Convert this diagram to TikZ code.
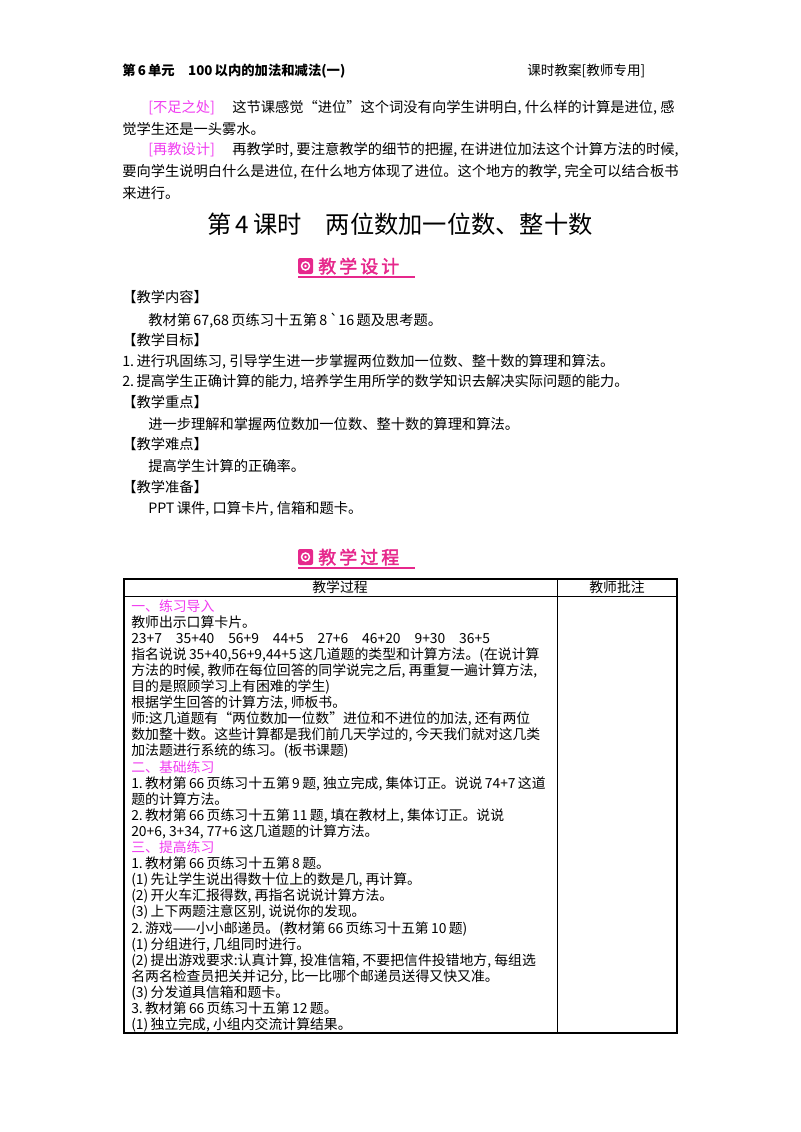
\documentclass[tikz,border=0pt]{standalone}
\usepackage{fontspec}
\setmainfont{Noto Sans CJK SC}
\newfontfamily\cjkbold{Noto Sans CJK SC}[FakeBold=2]
\usetikzlibrary{positioning}
\definecolor{pinkhead}{RGB}{230,40,140}
\definecolor{magtext}{RGB}{240,60,240}
\tikzset{
  body/.style={anchor=base west,inner sep=0pt,font=\fontsize{10.7}{12}\selectfont},
  cell/.style={anchor=base west,inner sep=0pt,font=\fontsize{10.4}{11}\selectfont},
  badge/.style={anchor=base west,inner sep=0pt,text=pinkhead,font=\cjkbold\fontsize{13.5}{15}\selectfont}
}
\newcommand{\badgeicon}[2]{%
  \fill[pinkhead,rounded corners=1.5pt] (#1,#2) rectangle ++(15,16);
  \draw[white,line width=1.1pt] (#1+7.5,#2+8) circle (4);
  \fill[white] (#1+7.5,#2+8) circle (1.3);
}
\begin{document}
\begin{tikzpicture}[x=0.75pt,y=-0.75pt]
\useasboundingbox (0,0) rectangle (800,1132);
% header
\node[body,font=\bfseries\fontsize{10}{12}\selectfont] (unit) at (122,75) {第\,6\,单元\quad 100\,以内的加法和减法(一)};
\node[body,font=\fontsize{10.2}{12}\selectfont] (plan) at (527,75) {课时教案[教师专用]};
% reflection
\node[body,text=magtext] (lack) at (148,112) {[不足之处]};
\node[body] (lacktxt) at (232,112) {这节课感觉“进位”这个词没有向学生讲明白, 什么样的计算是进位, 感};
\node[body] (lacktxt2) at (122,134) {觉学生还是一头雾水。};
\node[body,text=magtext] (redo) at (148,154) {[再教设计]};
\node[body] (redotxt) at (232,154) {再教学时, 要注意教学的细节的把握, 在讲进位加法这个计算方法的时候,};
\node[body] (redotxt2) at (122,176) {要向学生说明白什么是进位, 在什么地方体现了进位。这个地方的教学, 完全可以结合板书};
\node[body] (redotxt3) at (122,198) {来进行。};
% title
\node[anchor=base,inner sep=0pt,font=\fontsize{18.2}{22}\selectfont] (title) at (400,233) {第\,4\,课时\quad 两位数加一位数、整十数};
% badge 1
\badgeicon{298}{258}
\node[badge] (design) at (318,273) {教\,学\,设\,计};
\draw[pinkhead,line width=0.8pt] (298,277) -- (415,277);
% plan items
\node[body] (content) at (122,302) {【教学内容】};
\node[body] (content1) at (148,325) {教材第\,67,68\,页练习十五第\,8\,\textasciigrave16\,题及思考题。};
\node[body] (goal) at (122,345) {【教学目标】};
\node[body] (goal1) at (122,366) {1.\,进行巩固练习, 引导学生进一步掌握两位数加一位数、整十数的算理和算法。};
\node[body] (goal2) at (122,386) {2.\,提高学生正确计算的能力, 培养学生用所学的数学知识去解决实际问题的能力。};
\node[body] (key) at (122,407) {【教学重点】};
\node[body] (key1) at (148,429) {进一步理解和掌握两位数加一位数、整十数的算理和算法。};
\node[body] (hard) at (122,449) {【教学难点】};
\node[body] (hard1) at (148,471) {提高学生计算的正确率。};
\node[body] (prep) at (122,492) {【教学准备】};
\node[body] (prep1) at (148,513) {PPT\,课件, 口算卡片, 信箱和题卡。};
% badge 2
\badgeicon{298}{549}
\node[badge] (process) at (318,564) {教\,学\,过\,程};
\draw[pinkhead,line width=0.8pt] (298,568) -- (415,568);
% table
\draw[line width=0.9pt] (124,579) rectangle (677,1033);
\draw[line width=0.6pt] (124,596) -- (677,596);
\draw[line width=0.6pt] (557,579) -- (557,1033);
\node[cell,anchor=base] (colA) at (340,592) {教学过程};
\node[cell,anchor=base] (colB) at (617,592) {教师批注};
\foreach \i/\c/\t in {
 0/magtext/{一、练习导入},
 1/black/{教师出示口算卡片。},
 2/black/{23+7\quad 35+40\quad 56+9\quad 44+5\quad 27+6\quad 46+20\quad 9+30\quad 36+5},
 3/black/{指名说说\,35+40,56+9,44+5\,这几道题的类型和计算方法。(在说计算},
 4/black/{方法的时候, 教师在每位回答的同学说完之后, 再重复一遍计算方法,},
 5/black/{目的是照顾学习上有困难的学生)},
 6/black/{根据学生回答的计算方法, 师板书。},
 7/black/{师:这几道题有“两位数加一位数”进位和不进位的加法, 还有两位},
 8/black/{数加整十数。这些计算都是我们前几天学过的, 今天我们就对这几类},
 9/black/{加法题进行系统的练习。(板书课题)},
 10/magtext/{二、基础练习},
 11/black/{1.\,教材第\,66\,页练习十五第\,9\,题, 独立完成, 集体订正。说说\,74+7\,这道},
 12/black/{题的计算方法。},
 13/black/{2.\,教材第\,66\,页练习十五第\,11\,题, 填在教材上, 集体订正。说说},
 14/black/{20+6, 3+34, 77+6\,这几道题的计算方法。},
 15/magtext/{三、提高练习},
 16/black/{1.\,教材第\,66\,页练习十五第\,8\,题。},
 17/black/{(1)\,先让学生说出得数十位上的数是几, 再计算。},
 18/black/{(2)\,开火车汇报得数, 再指名说说计算方法。},
 19/black/{(3)\,上下两题注意区别, 说说你的发现。},
 20/black/{2.\,游戏——小小邮递员。(教材第\,66\,页练习十五第\,10\,题)},
 21/black/{(1)\,分组进行, 几组同时进行。},
 22/black/{(2)\,提出游戏要求:认真计算, 投准信箱, 不要把信件投错地方, 每组选},
 23/black/{名两名检查员把关并记分, 比一比哪个邮递员送得又快又准。},
 24/black/{(3)\,分发道具信箱和题卡。},
 25/black/{3.\,教材第\,66\,页练习十五第\,12\,题。},
 26/black/{(1)\,独立完成, 小组内交流计算结果。}}
  \node[cell,text=\c] (row\i) at (131,{611+16.1*\i}) {\t};
\end{tikzpicture}
\end{document}
